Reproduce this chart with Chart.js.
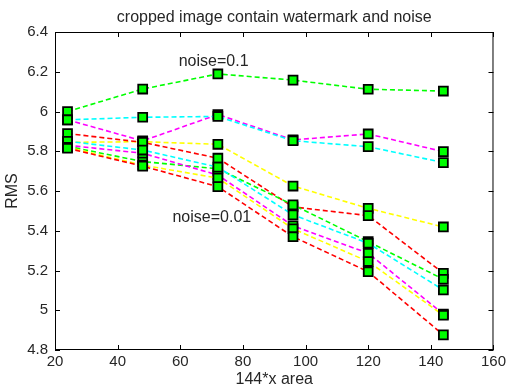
<!DOCTYPE html>
<html>
<head>
<meta charset="utf-8">
<script src="https://cdn.jsdelivr.net/npm/chart.js@4/dist/chart.umd.min.js"></script>
<style>
  html, body { margin: 0; padding: 0; background: #fff; }
  #wrap { width: 509px; height: 389px; }
</style>
</head>
<body>
<div id="wrap"><canvas id="rmsChart"></canvas></div>
<script>
// x positions (144*x area)
const areaValues = [24, 48, 72, 96, 120, 144];

// first group of five curves
const green1 = [6.0, 6.113, 6.189, 6.158, 6.112, 6.103];
const magenta1 = [5.958, 5.852, 5.985, 5.857, 5.887, 5.798];
const cyan1 = [5.958, 5.971, 5.975, 5.853, 5.823, 5.743];
const yellow1 = [5.845, 5.848, 5.835, 5.625, 5.513, 5.419];
const red1 = [5.889, 5.845, 5.765, 5.52, 5.476, 5.186];

// second group of five curves
const green2 = [5.825, 5.748, 5.712, 5.53, 5.345, 5.156];
const magenta2 = [5.83, 5.79, 5.68, 5.425, 5.287, 4.981];
const cyan2 = [5.85, 5.806, 5.72, 5.48, 5.337, 5.102];
const yellow2 = [5.82, 5.73, 5.665, 5.41, 5.245, 4.975];
const red2 = [5.815, 5.725, 5.622, 5.37, 5.194, 4.876];

const seriesList = [green1, magenta1, cyan1, yellow1, red1, green2, magenta2, cyan2, yellow2, red2];
const lineColors = ["#00ff00", "#ff00ff", "#00ffff", "#ffff00", "#ff0000"];

// text notes placed in data coordinates
const noteTexts = ["noise=0.1", "noise=0.01"];
const noteX = [59.5, 57.5];
const noteY = [6.249, 5.464];

const titleText = "cropped image contain watermark and noise";
const xTicks = [20, 40, 60, 80, 100, 120, 140, 160];
const yTicks = [4.8, 5, 5.2, 5.4, 5.6, 5.8, 6, 6.2, 6.4];

const textColor = "#262626";
const fontFamily = "'Liberation Sans', Arial, sans-serif";

const datasets = seriesList.map((vals, i) => ({
    data: vals.map((v, j) => ({ x: areaValues[j], y: v })),
    showLine: true,
    borderColor: lineColors[i % 5],
    borderWidth: 1.6,
    borderDash: [5, 3],
    pointStyle: "rect",
    pointRadius: 6.3,
    pointBackgroundColor: "#00ff00",
    pointBorderColor: "#000000",
    pointBorderWidth: 1.8,
    order: 10 - i,
}));

// MATLAB-like box with inward ticks, title and text notes
const matlabAxes = {
    id: "matlabAxes",
    afterDatasetsDraw(chart) {
        const ctx = chart.ctx;
        const area = chart.chartArea;
        const xs = chart.scales.x;
        const ys = chart.scales.y;
        ctx.save();
        ctx.strokeStyle = "#000";
        ctx.lineWidth = 1;
        ctx.strokeRect(area.left + 0.5, area.top + 0.5, area.right - area.left - 1, area.bottom - area.top - 1);
        ctx.beginPath();
        xTicks.forEach((t) => {
            const px = Math.round(xs.getPixelForValue(t)) + 0.5;
            ctx.moveTo(px, area.bottom);
            ctx.lineTo(px, area.bottom - 5);
            ctx.moveTo(px, area.top);
            ctx.lineTo(px, area.top + 5);
        });
        yTicks.forEach((t) => {
            const py = Math.round(ys.getPixelForValue(t)) + 0.5;
            ctx.moveTo(area.left, py);
            ctx.lineTo(area.left + 5, py);
            ctx.moveTo(area.right, py);
            ctx.lineTo(area.right - 5, py);
        });
        ctx.stroke();

        ctx.fillStyle = textColor;
        ctx.font = "16px " + fontFamily;
        ctx.textBaseline = "middle";
        ctx.textAlign = "center";
        ctx.fillText(titleText, (area.left + area.right) / 2, 18);

        ctx.textAlign = "left";
        noteTexts.forEach((txt, i) => {
            ctx.fillText(txt, xs.getPixelForValue(noteX[i]), ys.getPixelForValue(noteY[i]));
        });
        ctx.restore();
    },
};

new Chart(document.getElementById("rmsChart"), {
    type: "scatter",
    data: { datasets },
    options: {
        responsive: true,
        maintainAspectRatio: false,
        animation: false,
        layout: { padding: { left: 0, right: 13, top: 32, bottom: 0 } },
        plugins: {
            legend: { display: false },
            tooltip: { enabled: false },
        },
        scales: {
            x: {
                type: "linear",
                min: 20,
                max: 160,
                afterBuildTicks: (scale) => {
                    scale.ticks = xTicks.map((v) => ({ value: v }));
                },
                afterFit: (scale) => {
                    scale.height = 39;
                },
                ticks: { color: textColor, padding: 3, font: { family: fontFamily, size: 15 } },
                grid: { display: false, drawTicks: false },
                border: { display: false },
                title: {
                    display: true,
                    text: "144*x area",
                    color: textColor,
                    font: { family: fontFamily, size: 16 },
                    padding: { top: 0, bottom: 0 },
                },
            },
            y: {
                type: "linear",
                min: 4.8,
                max: 6.4,
                afterBuildTicks: (scale) => {
                    scale.ticks = yTicks.map((v) => ({ value: v }));
                },
                afterFit: (scale) => {
                    scale.width = 55;
                },
                ticks: {
                    color: textColor,
                    padding: 7,
                    font: { family: fontFamily, size: 15 },
                    callback: (v) => String(Math.round(v * 10) / 10),
                },
                grid: { display: false, drawTicks: false },
                border: { display: false },
                title: {
                    display: true,
                    text: "RMS",
                    color: textColor,
                    font: { family: fontFamily, size: 16 },
                    padding: { top: 3, bottom: 0 },
                },
            },
        },
    },
    plugins: [matlabAxes],
});
</script>
</body>
</html>
